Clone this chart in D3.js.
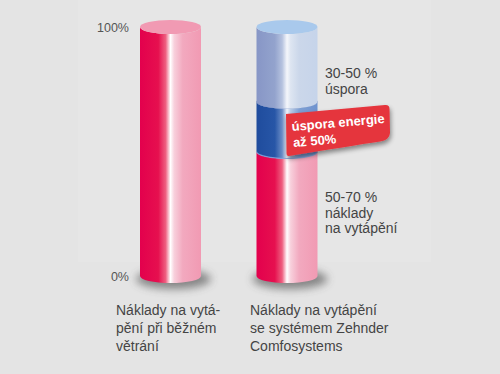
<!DOCTYPE html>
<html><head><meta charset="utf-8">
<script src="https://cdn.jsdelivr.net/npm/d3@7"></script>
<style>
html,body{margin:0;padding:0;background:#e4e4e4;}
svg{display:block;font-family:"Liberation Sans",Arial,sans-serif;}
</style></head>
<body><svg id="c" width="500" height="374"></svg>
<script>
const categories = ["standard", "zehnder"];
const categoryLabels = [
  ["Náklady na vytá-", "pění při běžném", "větrání"],
  ["Náklady na vytápění", "se systémem Zehnder", "Comfosystems"]
];
// stacked segments (percent)
const heatingCost = [100, 50];
const variableBand = [0, 20];
const saving = [0, 30];
const tickLabels = ["0%", "100%"];
const tickValues = [0, 100];
const savingLabel = ["30-50 %", "úspora"];
const costLabel = ["50-70 %", "náklady", "na vytápění"];
const badgeLabel = ["úspora energie", "až 50%"];

const svg = d3.select("#c");
const defs = svg.append("defs");

// faint panel
svg.append("rect").attr("x",78).attr("y",0).attr("width",353).attr("height",262).attr("fill","#e6e6e6");

const y = d3.scaleLinear().domain([0,100]).range([276,27]);
const x = d3.scalePoint().domain(categories).range([170.5,287]);
const W = 61, rx = W/2, ry = 7;

function grad(id, stops){
  const g = defs.append("linearGradient").attr("id",id).attr("x1","0").attr("x2","1").attr("y1","0").attr("y2","0");
  stops.forEach(s=>g.append("stop").attr("offset",s[0]).attr("stop-color",s[1]));
}
grad("gRed",[[0,"#e3004d"],[0.3,"#e6104f"],[0.42,"#ee5f80"],[0.5,"#ffffff"],[0.56,"#f8d0dc"],[0.7,"#f2a9bf"],[1,"#f19ab3"]]);
grad("gBlue",[[0,"#1f4c9d"],[0.3,"#2756a7"],[0.42,"#6a8cc6"],[0.5,"#f0f4fb"],[0.56,"#b9cbe6"],[0.7,"#7e9fd3"],[1,"#6f93cf"]]);
grad("gLight",[[0,"#8796c6"],[0.3,"#93a3cd"],[0.42,"#b5c2df"],[0.5,"#f4f6fb"],[0.56,"#dde5f1"],[0.7,"#cbd7ea"],[1,"#c6d4ea"]]);

const f = defs.append("filter").attr("id","blur").attr("x","-50%").attr("y","-50%").attr("width","200%").attr("height","200%");
f.append("feGaussianBlur").attr("stdDeviation",4);
const f2 = defs.append("filter").attr("id","sh").attr("x","-20%").attr("y","-20%").attr("width","140%").attr("height","160%");
f2.append("feGaussianBlur").attr("in","SourceAlpha").attr("stdDeviation",2.5);
f2.append("feOffset").attr("dx",1).attr("dy",3).attr("result","b");
f2.append("feComponentTransfer").append("feFuncA").attr("type","linear").attr("slope",0.45);
const m = f2.append("feMerge"); m.append("feMergeNode"); m.append("feMergeNode").attr("in","SourceGraphic");

// shadows
categories.forEach(c=>{
  svg.append("ellipse").attr("cx",x(c)+3).attr("cy",y(0)+3).attr("rx",rx+7).attr("ry",ry+3)
    .attr("fill","#444").attr("opacity",0.6).attr("filter","url(#blur)");
});

function segment(cx, v0, v1, fill, topFill, drawTop){
  const x0 = cx - rx, x1 = cx + rx, yb = y(v0), yt = y(v1);
  const p = `M${x0},${yt} L${x0},${yb} A${rx},${ry} 0 0 0 ${x1},${yb} L${x1},${yt} A${rx},${ry} 0 0 1 ${x0},${yt} Z`;
  svg.append("path").attr("d",p).attr("fill",fill);
  if(drawTop) svg.append("ellipse").attr("cx",cx).attr("cy",yt).attr("rx",rx).attr("ry",ry).attr("fill",topFill);
}

categories.forEach((c,i)=>{
  const cx = x(c);
  let base = 0;
  const segs = [
    [heatingCost[i],"url(#gRed)","#f19ab3"],
    [variableBand[i],"url(#gBlue)","#3a63b2"],
    [saving[i],"url(#gLight)","#a9c9ec"]
  ];
  segs.forEach((s,k)=>{
    if(s[0]<=0) return;
    segment(cx, base, base+s[0], s[1], s[2], true);
    base += s[0];
  });
});
// subtle inner rim line of red top under blue
svg.append("path")
  .attr("d",`M${x("zehnder")-rx},${y(50)} A${rx},${ry} 0 0 0 ${x("zehnder")+rx},${y(50)}`)
  .attr("fill","none").attr("stroke","#7ea4dc").attr("stroke-width",1.2).attr("opacity",0.8);

// ticks
svg.selectAll("text.tick").data(tickValues).join("text").attr("class","tick")
  .attr("x",129).attr("y",d=>y(d)+4.5).attr("text-anchor","end")
  .attr("font-size",12.5).attr("fill","#555").text((d,i)=>tickLabels[i]);

// side labels
function lines(arr, x0, y0, lh, size, fill){
  const t = svg.append("text").attr("font-size",size).attr("fill",fill);
  arr.forEach((s,i)=>t.append("tspan").attr("x",x0).attr("y",y0+i*lh).text(s));
}
lines(savingLabel, 325, 78, 16, 14, "#444");
lines(costLabel, 325, 202, 15.5, 14, "#444");
categoryLabels.forEach((arr,i)=>{
  lines(arr, i===0?116:250, 315, 18, 14, "#444");
});

// badge
const bg = svg.append("g").attr("filter","url(#sh)");
bg.append("path")
  .attr("d","M286,114 L385,105 Q389.5,104.6 389.5,109 L390,133 Q389.5,140 380,141.5 Q350,146 289,156 Q286.5,156.4 286.5,153 Z")
  .attr("fill","#e5353c");
const bt = svg.append("text").attr("font-size",13).attr("font-weight","bold").attr("fill","#fff")
  .attr("transform","rotate(-5 293 131)");
badgeLabel.forEach((s,i)=>bt.append("tspan").attr("x",292).attr("y",131+i*16).text(s));
</script></body></html>
